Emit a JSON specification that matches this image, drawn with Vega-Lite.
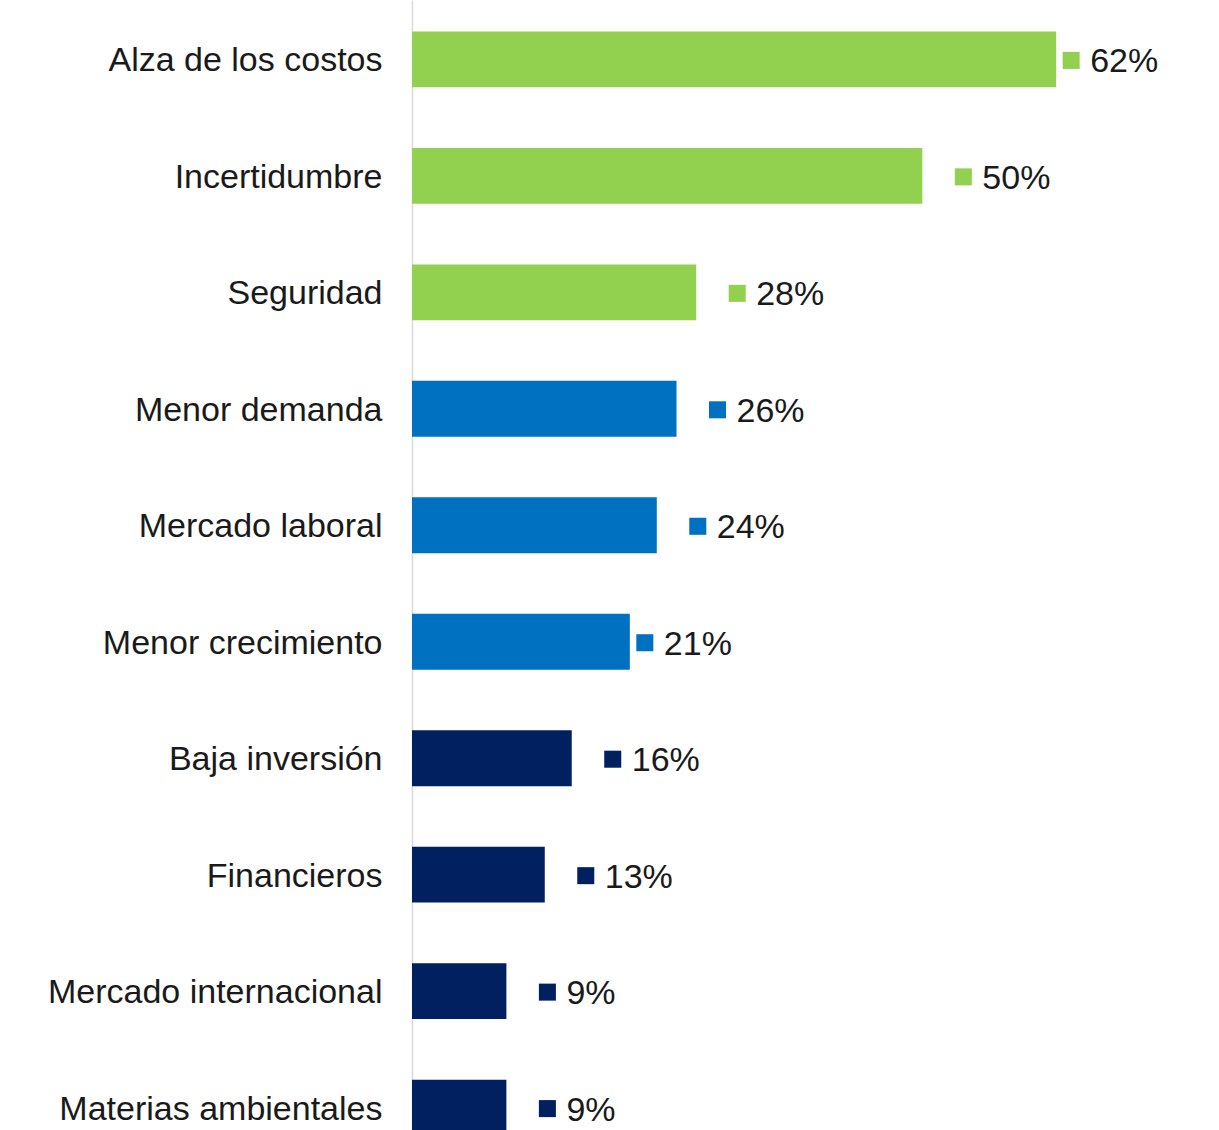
{
  "$schema": "https://vega.github.io/schema/vega-lite/v6.json",
  "autosize": "none",
  "padding": {"left": 412, "top": 0, "right": 0, "bottom": 0},
  "width": 807,
  "height": 1167,
  "background": "white",
  "config": {"view": {"stroke": null}},
  "data": {
    "values": [
      {"factor": "Alza de los costos", "valor": 62.1, "etiqueta": "62%", "grupo": "g1"},
      {"factor": "Incertidumbre", "valor": 49.2, "etiqueta": "50%", "grupo": "g1"},
      {"factor": "Seguridad", "valor": 27.4, "etiqueta": "28%", "grupo": "g1"},
      {"factor": "Menor demanda", "valor": 25.5, "etiqueta": "26%", "grupo": "g2"},
      {"factor": "Mercado laboral", "valor": 23.6, "etiqueta": "24%", "grupo": "g2"},
      {"factor": "Menor crecimiento", "valor": 21.0, "etiqueta": "21%", "grupo": "g2"},
      {"factor": "Baja inversión", "valor": 15.4, "etiqueta": "16%", "grupo": "g3"},
      {"factor": "Financieros", "valor": 12.8, "etiqueta": "13%", "grupo": "g3"},
      {"factor": "Mercado internacional", "valor": 9.1, "etiqueta": "9%", "grupo": "g3"},
      {"factor": "Materias ambientales", "valor": 9.1, "etiqueta": "9%", "grupo": "g3"}
    ]
  },
  "encoding": {
    "y": {
      "field": "factor", "type": "nominal", "sort": null, "title": null,
      "scale": {"paddingInner": 0.52, "paddingOuter": 0.27},
      "axis": {
        "ticks": false, "labelPadding": 30, "labelOffset": 2, "domainColor": "#d9d9d9", "domainWidth": 1.5,
        "labelFont": "Liberation Sans", "labelFontSize": 34, "labelColor": "#1a1a1a",
        "labelLimit": 500
      }
    },
    "x": {
      "field": "valor", "type": "quantitative",
      "scale": {"domain": [0, 77.8], "nice": false, "zero": true},
      "axis": null
    },
    "color": {
      "field": "grupo", "type": "nominal", "legend": null,
      "scale": {"domain": ["g1", "g2", "g3"], "range": ["#92D050", "#0070C0", "#002060"]}
    }
  },
  "layer": [
    {"mark": {"type": "bar"}},
    {
      "transform": [{"filter": "datum.etiqueta == '62%' || datum.etiqueta == '21%'"}],
      "layer": [
        {"mark": {"type": "point", "shape": "square", "filled": true, "opacity": 1, "size": 290, "xOffset": 15, "yOffset": 1}},
        {"mark": {"type": "text", "align": "left", "baseline": "middle", "dx": 34, "dy": 3, "font": "Liberation Sans", "fontSize": 34, "color": "#1a1a1a"},
         "encoding": {"text": {"field": "etiqueta"}, "color": {"value": "#1a1a1a"}}}
      ]
    },
    {
      "transform": [{"filter": "datum.etiqueta != '62%' && datum.etiqueta != '21%'"}],
      "layer": [
        {"mark": {"type": "point", "shape": "square", "filled": true, "opacity": 1, "size": 290, "xOffset": 41, "yOffset": 1}},
        {"mark": {"type": "text", "align": "left", "baseline": "middle", "dx": 60, "dy": 3, "font": "Liberation Sans", "fontSize": 34, "color": "#1a1a1a"},
         "encoding": {"text": {"field": "etiqueta"}, "color": {"value": "#1a1a1a"}}}
      ]
    }
  ]
}
